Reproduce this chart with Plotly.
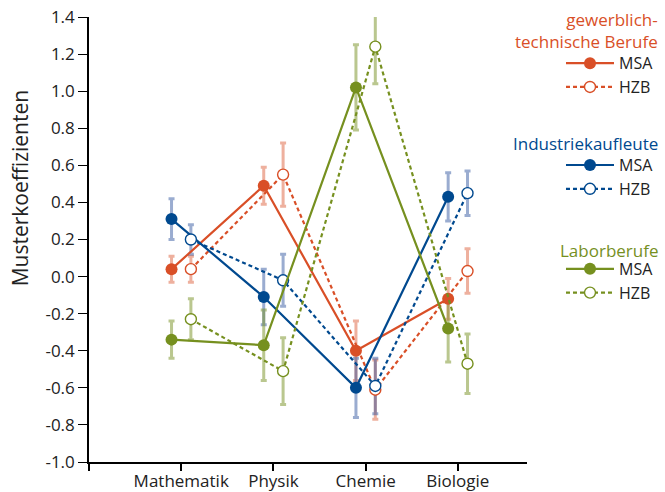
import plotly.graph_objects as go

# ---- data ----
categories = ["Mathematik", "Physik", "Chemie", "Biologie"]
groups = ["gewerblich-<br>technische Berufe", "Industriekaufleute", "Laborberufe"]
types = ["MSA", "HZB"]

gew_msa = [0.04, 0.49, -0.40, -0.12]
gew_hzb = [0.04, 0.55, -0.61, 0.03]
ind_msa = [0.31, -0.11, -0.60, 0.43]
ind_hzb = [0.20, -0.02, -0.59, 0.45]
lab_msa = [-0.34, -0.37, 1.02, -0.28]
lab_hzb = [-0.23, -0.51, 1.24, -0.47]

gew_msa_err = [0.07, 0.10, 0.16, 0.11]
gew_hzb_err = [0.07, 0.17, 0.16, 0.12]
ind_msa_err = [0.11, 0.15, 0.16, 0.13]
ind_hzb_err = [0.08, 0.14, 0.15, 0.12]
lab_msa_err = [0.10, 0.19, 0.23, 0.18]
lab_hzb_err = [0.11, 0.18, 0.20, 0.16]

y_ticks = [-1.0, -0.8, -0.6, -0.4, -0.2, 0.0, 0.2, 0.4, 0.6, 0.8, 1.0, 1.2, 1.4]
y_title = "Musterkoeffizienten"

# ---- styling ----
colors = ["#d94f27", "#00498f", "#76901f"]
err_colors = ["rgba(217,79,39,0.45)", "rgba(30,70,150,0.45)", "rgba(118,144,31,0.5)"]
FONT = "Open Sans"

series = [
    (0, "MSA", gew_msa, gew_msa_err),
    (0, "HZB", gew_hzb, gew_hzb_err),
    (1, "MSA", ind_msa, ind_msa_err),
    (1, "HZB", ind_hzb, ind_hzb_err),
    (2, "MSA", lab_msa, lab_msa_err),
    (2, "HZB", lab_hzb, lab_hzb_err),
]
offsets = {"MSA": -0.105, "HZB": 0.105}
legend_names = ["legend", "legend2", "legend3"]

fig = go.Figure()

# error bars first (below lines)
for g, t, vals, errs in series:
    xs = [i + offsets[t] for i in range(len(categories))]
    fig.add_trace(go.Scatter(
        x=xs, y=vals, mode="markers",
        marker=dict(size=1, opacity=0),
        error_y=dict(type="data", array=errs, color=err_colors[g], thickness=3, width=3),
        showlegend=False, hoverinfo="skip",
    ))

for g, t, vals, errs in series:
    xs = [i + offsets[t] for i in range(len(categories))]
    filled = t == "MSA"
    fig.add_trace(go.Scatter(
        x=xs, y=vals, mode="lines+markers", name=t,
        line=dict(color=colors[g], width=2.2, dash="solid" if filled else "4px,3px"),
        marker=dict(size=12 if filled else 11, color=colors[g] if filled else "white",
                    line=dict(color=colors[g], width=0 if filled else 1.4)),
        legend=legend_names[g],
        hovertext=[f"{c}: {v}" for c, v in zip(categories, vals)],
    ))

legend_common = dict(xref="container", yref="container", xanchor="left", yanchor="top",
                     bgcolor="rgba(0,0,0,0)",
                     font=dict(family=FONT, size=16, color="#222"), itemwidth=48,
                     tracegroupgap=0)
legend_x = 0.8436
legend_y = [0.906, 0.699, 0.488]
title_y = [0.969, 0.715, 0.476]

annotations = []
for g in range(3):
    annotations.append(dict(
        text=groups[g], xref="paper", yref="paper", x=1.304, y=title_y[g],
        xanchor="right", yanchor="middle", align="right", showarrow=False,
        font=dict(family=FONT, size=17, color=colors[g]),
    ))
annotations.append(dict(
    text=y_title, xref="paper", yref="paper", x=-0.1575, y=0.615,
    xanchor="center", yanchor="middle", textangle=-90, showarrow=False,
    font=dict(family=FONT, size=21, color="#222"),
))

fig.update_layout(
    width=665, height=492,
    margin=dict(l=89, r=138, t=17, b=30, autoexpand=False),
    paper_bgcolor="white", plot_bgcolor="white",
    font=dict(family=FONT, size=17, color="#222"),
    showlegend=True,
    legend=dict(x=legend_x, y=legend_y[0], **legend_common),
    legend2=dict(x=legend_x, y=legend_y[1], **legend_common),
    legend3=dict(x=legend_x, y=legend_y[2], **legend_common),
    annotations=annotations,
    xaxis=dict(
        range=[-1, 3.75], tickvals=[-1, 0, 1, 2, 3], ticktext=[""] + categories,
        showgrid=False, zeroline=False, showline=True, linecolor="black", linewidth=2,
        ticks="outside", ticklen=7, tickwidth=1.5, tickcolor="black", automargin=False,
        ticklabelstandoff=-4,
        tickfont=dict(family=FONT, size=17, color="#222"),
    ),
    yaxis=dict(
        range=[-1.0, 1.4], tickvals=y_ticks, ticktext=[f"{v:.1f}" for v in y_ticks],
        showgrid=False, zeroline=False, showline=True, linecolor="black", linewidth=1.6,
        ticks="outside", ticklen=9, tickwidth=1.2, tickcolor="black", automargin=False,
        tickfont=dict(family=FONT, size=17, color="#222"),
    ),
)

fig.write_html("out.html", config={"displayModeBar": False},
               post_script="document.body.style.margin='0';")
